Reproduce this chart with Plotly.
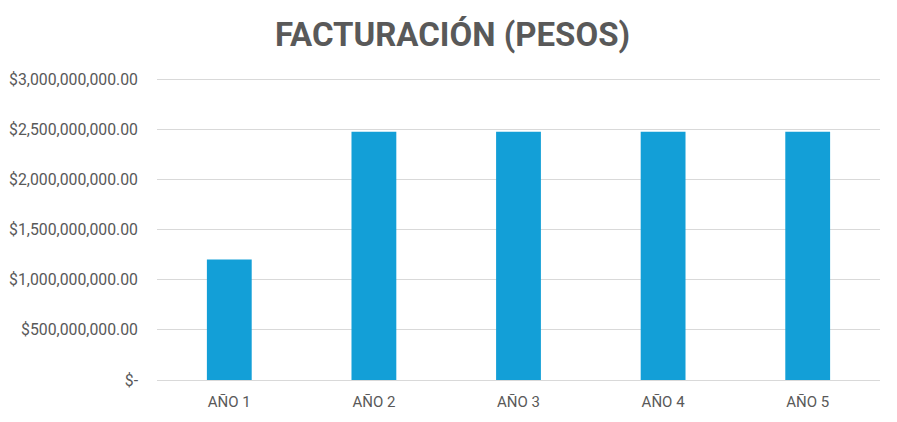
import plotly.graph_objects as go

years = ["AÑO 1", "AÑO 2", "AÑO 3", "AÑO 4", "AÑO 5"]
facturacion = [1200000000, 2475000000, 2475000000, 2475000000, 2475000000]
tick_values = [0, 500000000, 1000000000, 1500000000, 2000000000, 2500000000, 3000000000]


def money(v):
    return "$-" if v == 0 else f"${v:,.2f}"


fig = go.Figure()
fig.add_trace(go.Bar(
    x=years,
    y=facturacion,
    marker_color="#139FD7",
    marker_line_width=0,
))
# page body adds an 8px margin, so the figure is a little smaller than the window
fig.update_layout(
    width=889,
    height=414,
    margin=dict(l=149, r=17, t=69, b=42),
    paper_bgcolor="white",
    plot_bgcolor="white",
    bargap=0.69,
    showlegend=False,
    title=dict(
        text="<b>FACTURACIÓN (PESOS)</b>",
        x=0.5,
        xanchor="center",
        y=0.937,
        yanchor="middle",
        font=dict(family="Roboto", size=33, color="#595959"),
    ),
    font=dict(family="Roboto", size=15, color="#595959"),
)
fig.update_yaxes(
    automargin=False,
    range=[0, 3020000000],
    tickvals=tick_values,
    ticktext=[money(v) for v in tick_values],
    showgrid=True,
    gridcolor="#D9D9D9",
    gridwidth=1,
    zeroline=False,
    showline=False,
    ticks="",
    ticklabelstandoff=18,
    tickfont=dict(size=15.8),
)
fig.update_xaxes(
    automargin=False,
    showline=True,
    linecolor="#D9D9D9",
    linewidth=1,
    ticks="",
    ticklabelstandoff=8,
    tickfont=dict(size=15),
)
fig.write_html("out.html")
